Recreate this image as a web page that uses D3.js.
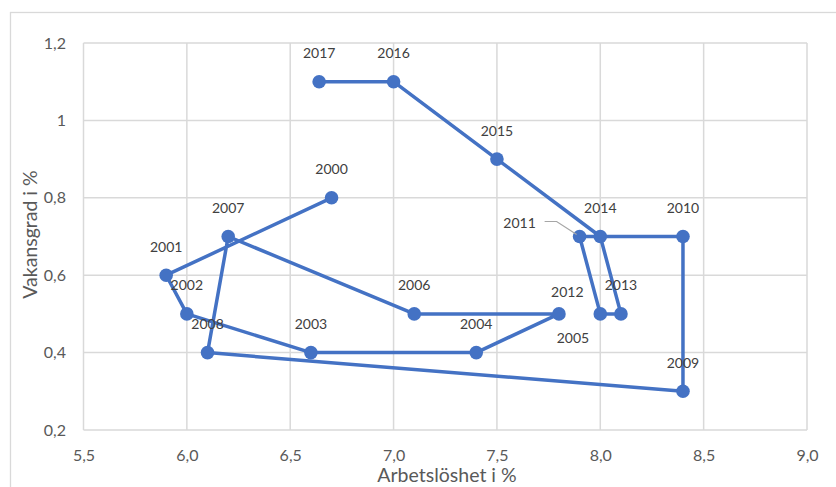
<!DOCTYPE html>
<html>
<head>
<meta charset="utf-8">
<script src="https://cdn.jsdelivr.net/npm/d3@7"></script>
<style>
  html, body { margin: 0; padding: 0; background: #fff; }
  svg { display: block; }
  text { font-family: Lato, "Open Sans", sans-serif; }
</style>
</head>
<body>
<svg id="chart" width="836" height="487"></svg>
<script>
// ---- data ----
const years = ["2000","2001","2002","2003","2004","2005","2006","2007","2008",
               "2009","2010","2011","2012","2013","2014","2015","2016","2017"];
const unemployment = [6.7, 5.9, 6.0, 6.6, 7.4, 7.8, 7.1, 6.2, 6.1,
                      8.4, 8.4, 7.9, 8.0, 8.1, 8.0, 7.5, 7.0, 6.64];
const vacancy = [0.8, 0.6, 0.5, 0.4, 0.4, 0.5, 0.5, 0.7, 0.4,
                 0.3, 0.7, 0.7, 0.5, 0.5, 0.7, 0.9, 1.1, 1.1];
const xTicks = [5.5, 6.0, 6.5, 7.0, 7.5, 8.0, 8.5, 9.0];
const yTicks = [0.2, 0.4, 0.6, 0.8, 1.0, 1.2];
const xTitle = "Arbetslöshet i %";
const yTitle = "Vakansgrad i %";

// ---- layout (manual label placement, as in the original) ----
const labelShift = { "2005": [14, 52.5], "2012": [-33, 6.5], "2011": [-60, 14.5] };

const svg = d3.select("#chart");
const W = 836, H = 487;
const plot = { left: 83.5, right: 807, top: 43, bottom: 430 };

const x = d3.scaleLinear().domain([5.5, 9.0]).range([plot.left, plot.right]);
const y = d3.scaleLinear().domain([0.2, 1.2]).range([plot.bottom, plot.top]);

const fmtX = d => d3.format(".1f")(d).replace(".", ",");
const fmtY = d => (Math.abs(d - 1) < 1e-9 ? "1" : d3.format(".1f")(d).replace(".", ","));

// outer frame (extends beyond the visible area)
svg.append("rect")
  .attr("x", 10.5).attr("y", 12.5)
  .attr("width", W + 20).attr("height", H + 20)
  .attr("fill", "none").attr("stroke", "#d9d9d9").attr("stroke-width", 1.3);

// gridlines
const grid = svg.append("g").attr("class", "grid");
grid.selectAll("line.v").data(xTicks).join("line")
  .attr("class", "v")
  .attr("x1", d => x(d)).attr("x2", d => x(d))
  .attr("y1", plot.top).attr("y2", plot.bottom)
  .attr("stroke", "#d9d9d9").attr("stroke-width", 1.5);
grid.selectAll("line.h").data(yTicks).join("line")
  .attr("class", "h")
  .attr("x1", plot.left).attr("x2", plot.right)
  .attr("y1", d => y(d)).attr("y2", d => y(d))
  .attr("stroke", "#d9d9d9").attr("stroke-width", 1.5);

// axes (tick labels via d3 axes)
const xAxis = svg.append("g")
  .attr("transform", `translate(0,${plot.bottom})`)
  .call(d3.axisBottom(x).tickValues(xTicks).tickFormat(fmtX).tickSize(0).tickPadding(19.5));
const yAxis = svg.append("g")
  .attr("transform", `translate(${plot.left},0)`)
  .call(d3.axisLeft(y).tickValues(yTicks).tickFormat(fmtY).tickSize(0).tickPadding(17.5));
[xAxis, yAxis].forEach(a => {
  a.select(".domain").remove();
  a.selectAll("text").attr("fill", "#595959").style("font-size", "16px")
    .style("font-family", "Lato, sans-serif");
});

// axis titles
svg.append("text")
  .attr("x", 447).attr("y", 482)
  .attr("text-anchor", "middle").attr("fill", "#595959")
  .style("font-size", "19.5px").text(xTitle);
svg.append("text")
  .attr("transform", `translate(36.5,${(plot.top + plot.bottom) / 2 - 2}) rotate(-90)`)
  .attr("text-anchor", "middle").attr("fill", "#595959")
  .style("font-size", "19.5px").text(yTitle);

// data
const pts = years.map((yr, i) => ({ yr, u: unemployment[i], v: vacancy[i] }));

const line = d3.line().x(d => x(d.u)).y(d => y(d.v));
svg.append("path").datum(pts)
  .attr("d", line)
  .attr("fill", "none").attr("stroke", "#4472c4")
  .attr("stroke-width", 3.5).attr("stroke-linejoin", "round");

svg.selectAll("circle.pt").data(pts).join("circle")
  .attr("class", "pt")
  .attr("cx", d => x(d.u)).attr("cy", d => y(d.v)).attr("r", 6.8)
  .attr("fill", "#4472c4");

// leader line for 2011
const p11 = pts.find(d => d.yr === "2011");
svg.append("path")
  .attr("d", `M${x(p11.u) - 35},${y(p11.v) - 15} L${x(p11.u) - 23},${y(p11.v) - 15} L${x(p11.u) - 3},${y(p11.v) - 2}`)
  .attr("fill", "none").attr("stroke", "#a6a6a6").attr("stroke-width", 1.2);

// labels
svg.selectAll("text.lbl").data(pts).join("text")
  .attr("class", "lbl")
  .attr("x", d => x(d.u) + (labelShift[d.yr] ? labelShift[d.yr][0] : 0))
  .attr("y", d => y(d.v) - 23.5 + (labelShift[d.yr] ? labelShift[d.yr][1] : 0))
  .attr("text-anchor", "middle").attr("fill", "#404040")
  .style("font-size", "14px").text(d => d.yr);
</script>
</body>
</html>
